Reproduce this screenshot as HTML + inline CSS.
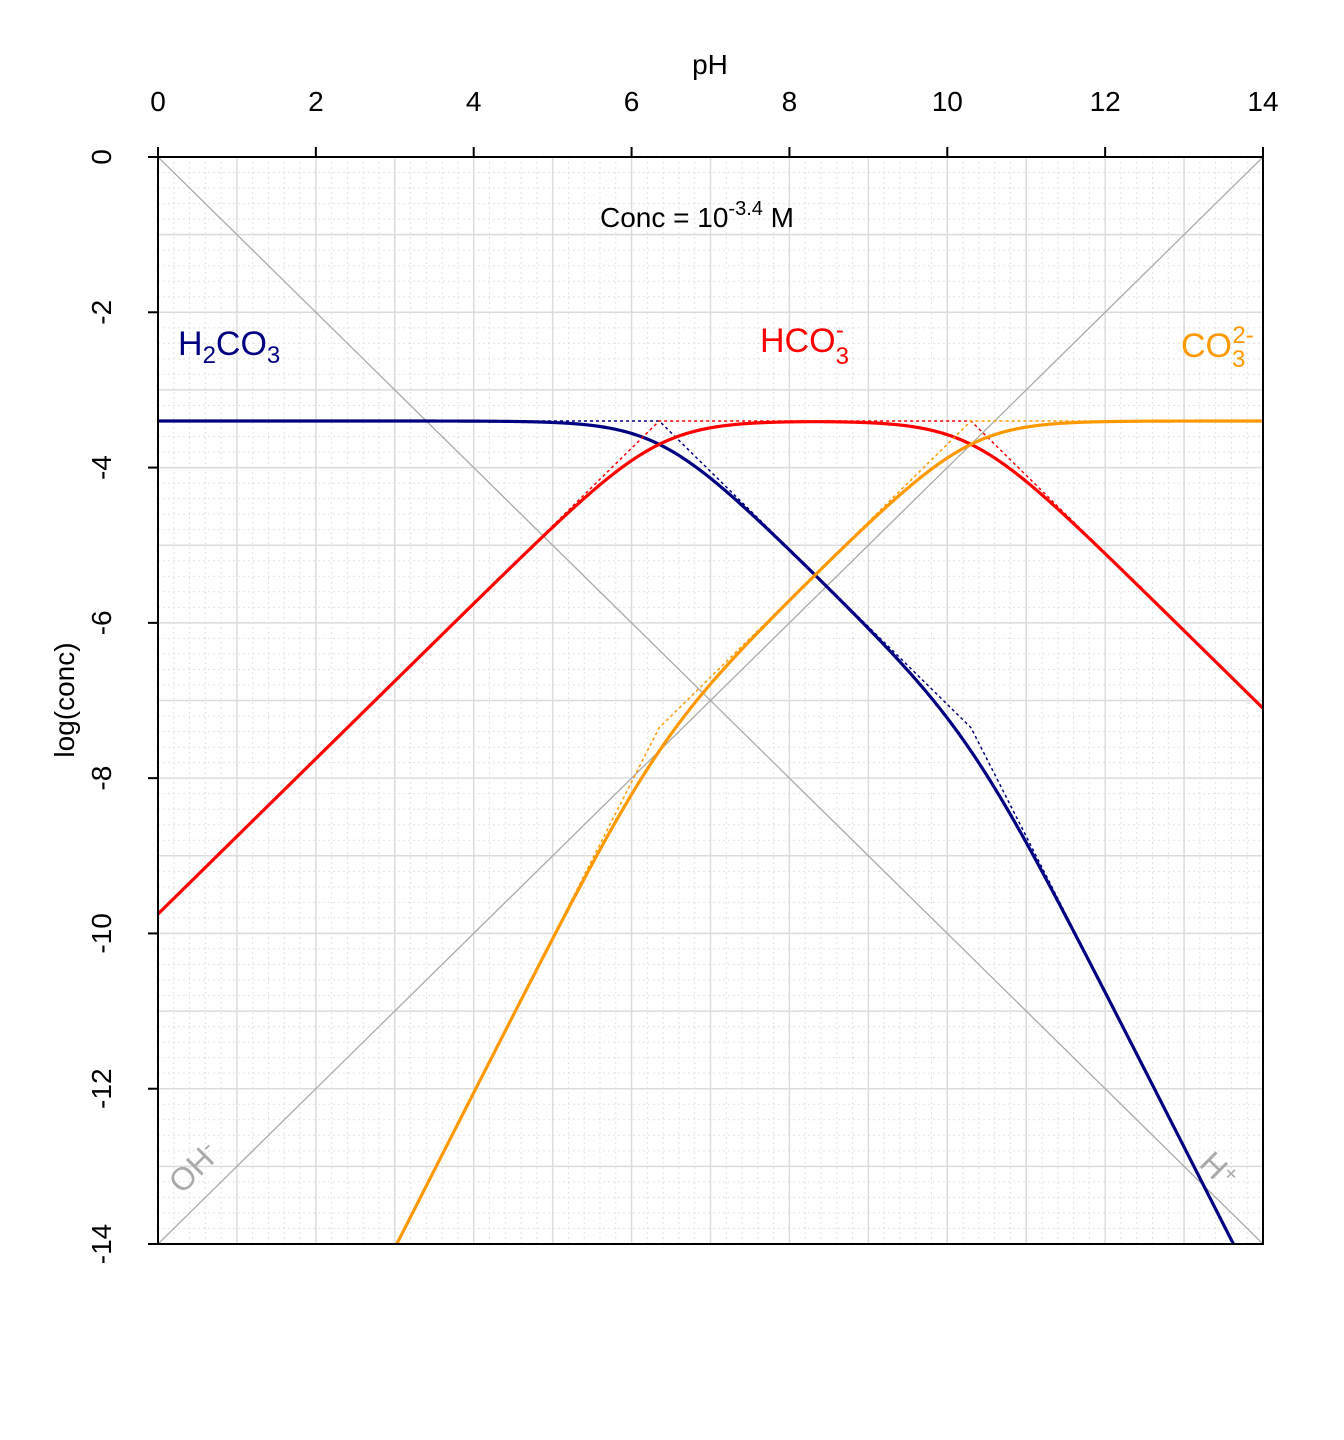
<!DOCTYPE html>
<html><head><meta charset="utf-8"><style>
html,body{margin:0;padding:0;background:#fff;overflow:hidden;width:1344px;height:1440px}
svg{display:block;font-family:"Liberation Sans",Arial,sans-serif}
</style></head><body>
<div style="position:relative;width:1344px;height:1440px">
<svg id="chart" width="1344" height="1440" viewBox="0 0 1344 1440" style="position:absolute;left:0;top:0"></svg>
<svg width="1344" height="1440" style="position:absolute;left:0;top:0" font-family="Liberation Sans, Arial, sans-serif">
<text x="710" y="74" font-size="28" text-anchor="middle">pH</text>
<text transform="translate(74,700) rotate(-90)" font-size="28" text-anchor="middle">log(conc)</text>
<text x="600" y="227" font-size="28">Conc = 10<tspan font-size="20" dy="-12">-3.4</tspan><tspan dy="12"> M</tspan></text>
<text x="178" y="355" font-size="34" fill="#000080">H<tspan font-size="24" dy="8">2</tspan><tspan dy="-8">CO</tspan><tspan font-size="24" dy="8">3</tspan></text>
<text x="760" y="352" font-size="34" fill="#ff0000">HCO<tspan font-size="24" dy="12">3</tspan><tspan font-size="24" dx="-13" dy="-26">-</tspan></text>
<text x="1181" y="357" font-size="34" fill="#ff9900">CO<tspan font-size="24" dy="10">3</tspan><tspan font-size="24" dx="-13" dy="-24">2-</tspan></text>
<text transform="translate(182,1195) rotate(-45)" font-size="32" fill="#aaa">OH<tspan font-size="22" dy="-10">-</tspan></text>
<text transform="translate(1198,1165) rotate(45)" font-size="32" fill="#aaa">H<tspan font-size="22" dy="-10">+</tspan></text>
</svg>
</div>
<script>
const speciesNames = ["H2CO3","HCO3-","CO3 2-"];
const speciesColors = ["#000080","#ff0000","#ff9900"];
const pKa = [6.35,10.3];
const logTotal = [-3.4];
const xTicks = [0,2,4,6,8,10,12,14];
const yTicks = [0,-2,-4,-6,-8,-10,-12,-14];

const X0=158,X1=1263,Y0=157,Y1=1244;
const sx=v=>X0+(v/14)*(X1-X0);
const sy=v=>Y0+(-v/14)*(Y1-Y0);
const svg=document.getElementById('chart');
const NS='http://www.w3.org/2000/svg';
function el(t,a,p){const e=document.createElementNS(NS,t);for(const k in a)e.setAttribute(k,a[k]);(p||svg).appendChild(e);return e;}

const clip=el('clipPath',{id:'pc'});el('rect',{x:X0,y:Y0,width:X1-X0,height:Y1-Y0},clip);
const g=el('g',{'clip-path':'url(#pc)'});


for(let i=0;i<=70;i++){const v=i*0.2;
 let l=el('line',{x1:sx(v),x2:sx(v),y1:Y0,y2:Y1,stroke:'#e3e3e3','stroke-width':1,'stroke-dasharray':'2,3'},g);
 
 
 l=el('line',{y1:sy(-v),y2:sy(-v),x1:X0,x2:X1,stroke:'#e3e3e3','stroke-width':1,'stroke-dasharray':'2,3'},g);
 
 }
for(let v=0;v<=14;v++){
 let l=el('line',{x1:sx(v),x2:sx(v),y1:Y0,y2:Y1,stroke:'#dcdcdc','stroke-width':1.5},g);
 
 
 l=el('line',{y1:sy(-v),y2:sy(-v),x1:X0,x2:X1,stroke:'#dcdcdc','stroke-width':1.5},g);
 
 }
let hl=el('line',{x1:sx(0),y1:sy(0),x2:sx(14),y2:sy(-14),stroke:'#aaa','stroke-width':1.3},g);


let ol=el('line',{x1:sx(0),y1:sy(-14),x2:sx(14),y2:sy(0),stroke:'#aaa','stroke-width':1.3},g);



function terms(pH){const h=-pH;return [0,-pKa[0]-h,-pKa[0]-pKa[1]-2*h];}
function logSpecies(i,pH){
 const t=terms(pH);const m=Math.max(...t);let s=0;t.forEach(v=>s+=Math.pow(10,v-m));
 return logTotal[0]+t[i]-m-Math.log10(s);}
function logApprox(i,pH){const t=terms(pH);return logTotal[0]+t[i]-Math.max(...t);}
for(let i=0;i<3;i++){
 let d='',da='';
 for(let k=0;k<=1400;k++){const p=k/100;
  d+=(k?'L':'M')+sx(p).toFixed(2)+','+sy(logSpecies(i,p)).toFixed(2);
  da+=(k?'L':'M')+sx(p).toFixed(2)+','+sy(logApprox(i,p)).toFixed(2);}
 const a=el('path',{d:da,fill:'none',stroke:speciesColors[i],'stroke-width':1.5,'stroke-dasharray':'3,3'},g);
 
 
 const c=el('path',{d:d,fill:'none',stroke:speciesColors[i],'stroke-width':3.2},g);
 
 
}
const box=el('rect',{x:X0,y:Y0,width:X1-X0,height:Y1-Y0,fill:'none',stroke:'#000','stroke-width':2});


xTicks.forEach(v=>{
 const t=el('line',{x1:sx(v),x2:sx(v),y1:Y0,y2:Y0-10,stroke:'#000','stroke-width':2});
 
 
 const tx=el('text',{x:sx(v),y:111,'font-size':28,'text-anchor':'middle'});tx.textContent=v;
 
 });
yTicks.forEach(v=>{
 const t=el('line',{x1:X0,x2:X0-10,y1:sy(v),y2:sy(v),stroke:'#000','stroke-width':2});
 
 
 const tx=el('text',{x:0,y:0,'font-size':28,'text-anchor':'middle',transform:`translate(111,${sy(v)}) rotate(-90)`});tx.textContent=v;
 
 });
</script>
</body></html>
